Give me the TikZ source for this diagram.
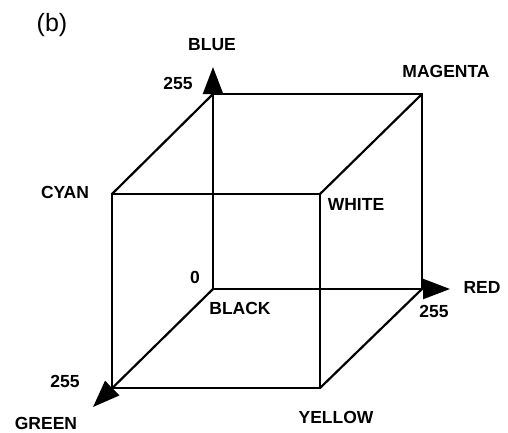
\documentclass[tikz,border=0pt]{standalone}
\usepackage{fontspec}
\setmainfont{Liberation Sans}
\usetikzlibrary{arrows.meta}

\begin{document}
\begin{tikzpicture}[x=1pt,y=-1pt,line width=2.2pt,
  lbl/.style={font=\bfseries\fontsize{17.5}{20}\selectfont,inner sep=0pt},
  axis/.style={-{Triangle[length=27pt,width=20pt]}}]
\useasboundingbox (0,0) rectangle (508,432);
% corners of the cube
\coordinate (black) at (213,289);
\coordinate (blue) at (213,94);
\coordinate (magenta) at (422,94);
\coordinate (red) at (422,289);
\coordinate (cyan) at (112,194);
\coordinate (white) at (320,194);
\coordinate (yellow) at (320,388);
\coordinate (green) at (112,388);
% axis tips
\coordinate (blueTip) at (213,67);
\coordinate (redTip) at (450,289);
\coordinate (greenTip) at (93,407);
% labels
\node[font=\fontsize{25}{27}\selectfont,inner sep=0pt] (fig) at (52,25) {(b)};
\node[lbl] (lBlue) at (212,45) {BLUE};
\node[lbl] (nBlue) at (178,83) {255};
\node[lbl] (lMagenta) at (446,71) {MAGENTA};
\node[lbl] (lCyan) at (65,192) {CYAN};
\node[lbl] (lWhite) at (356,204) {WHITE};
\node[lbl] (nBlack) at (195,277) {0};
\node[lbl] (lBlack) at (240,308) {BLACK};
\node[lbl] (lRed) at (482,287) {RED};
\node[lbl] (nRed) at (434,311) {255};
\node[lbl] (nGreen) at (65,381) {255};
\node[lbl] (lGreen) at (46,423) {GREEN};
\node[lbl] (lYellow) at (336,417) {YELLOW};
% axes
\draw[axis] (black) -- (blueTip);
\draw[axis] (black) -- (redTip);
\draw[axis] (black) -- (greenTip);
% cube edges
\draw (blue) -- (magenta) -- (red);
\draw (cyan) -- (white) -- (yellow) -- (green) -- cycle;
\draw (cyan) -- (blue);
\draw (white) -- (magenta);
\draw (yellow) -- (red);
\end{tikzpicture}
\end{document}
